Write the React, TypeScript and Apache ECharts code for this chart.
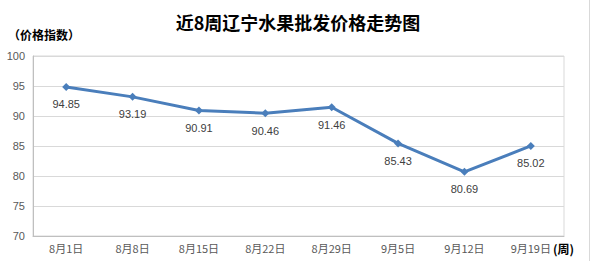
import React, { useEffect, useRef } from "react";
import * as echarts from "echarts";

const categories = ["8月1日", "8月8日", "8月15日", "8月22日", "8月29日", "9月5日", "9月12日", "9月19日"];
const values = [94.85, 93.19, 90.91, 90.46, 91.46, 85.43, 80.69, 85.02];
const yMin = 70;
const yMax = 100;
const yInterval = 5;
const titleText = "近8周辽宁水果批发价格走势图";
const yName = "（价格指数）";
const xName = "(周)";

const CJK = '"Noto Sans CJK SC", "Noto Sans", sans-serif';

export default function App() {
  const ref = useRef<HTMLDivElement>(null);
  useEffect(() => {
    if (!ref.current) return;
    const chart = echarts.init(ref.current, null, { renderer: "svg" });
    chart.setOption({
      animation: false,
      backgroundColor: "#ffffff",
      title: {
        text: titleText,
        left: 293,
        textAlign: "center",
        top: 8,
        textStyle: { fontFamily: CJK, fontSize: 18, fontWeight: "bold", color: "#000000" },
      },
      grid: {
        left: 33,
        top: 56,
        width: 531,
        height: 180,
        show: true,
        borderColor: "#d9d9d9",
        borderWidth: 1,
        containLabel: false,
      },
      xAxis: {
        type: "category",
        data: categories,
        boundaryGap: true,
        axisLine: { show: true, lineStyle: { color: "#bfbfbf", width: 1 } },
        axisTick: { show: false },
        axisLabel: { color: "#595959", fontSize: 11, fontFamily: CJK, margin: 6, interval: 0 },
      },
      yAxis: {
        type: "value",
        min: yMin,
        max: yMax,
        interval: yInterval,
        axisLine: { show: true, lineStyle: { color: "#bfbfbf", width: 1 } },
        axisTick: { show: false },
        splitLine: { show: true, lineStyle: { color: "#d9d9d9", width: 1 } },
        axisLabel: { color: "#595959", fontSize: 11, fontFamily: '"Liberation Sans", sans-serif', margin: 8 },
      },
      series: [
        {
          type: "line",
          data: values,
          symbol: "diamond",
          symbolSize: 8,
          lineStyle: { color: "#4a7ebb", width: 3 },
          itemStyle: { color: "#4a7ebb" },
          label: {
            show: true,
            position: "bottom",
            distance: 8,
            color: "#404040",
            fontSize: 11,
            fontFamily: '"Liberation Sans", sans-serif',
            formatter: (p: any) => Number(p.value).toFixed(2),
          },
        },
      ],
      graphic: [
        {
          type: "text",
          left: 8,
          top: 28,
          style: { text: yName, fontFamily: CJK, fontSize: 12, fontWeight: "bold", fill: "#000000" },
        },
        {
          type: "text",
          left: 553,
          top: 242,
          style: { text: xName, fontFamily: CJK, fontSize: 12, fontWeight: "bold", fill: "#000000" },
        },
        {
          type: "line",
          shape: { x1: 589.5, y1: 0, x2: 589.5, y2: 261 },
          style: { stroke: "#d9d9d9", lineWidth: 1 },
        },
      ],
    });
    return () => chart.dispose();
  }, []);
  return <div ref={ref} style={{ width: 590, height: 261, position: "absolute", left: 0, top: 0 }} />;
}
